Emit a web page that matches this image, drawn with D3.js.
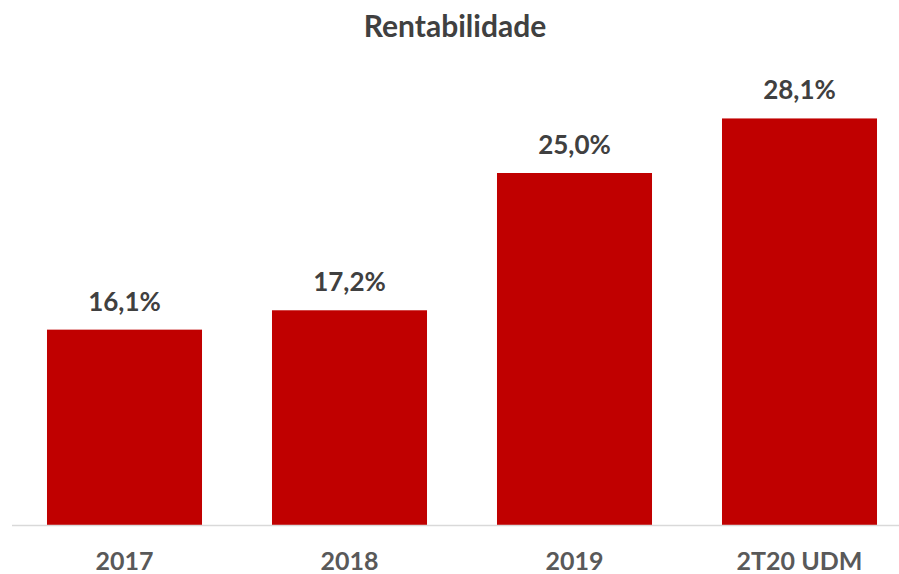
<!DOCTYPE html>
<html>
<head>
<meta charset="utf-8">
<script src="https://cdn.jsdelivr.net/npm/d3@7"></script>
<style>
  body { margin: 0; background: #fff; }
  text { font-family: Lato, "Open Sans", sans-serif; font-weight: bold; }
</style>
</head>
<body>
<div id="chart"></div>
<script>
// chart data
var categories = ["2017", "2018", "2019", "2T20 UDM"];
var values = [16.1, 17.2, 25.0, 28.1];
var valueLabels = ["16,1%", "17,2%", "25,0%", "28,1%"];
var chartTitle = "Rentabilidade";

var width = 899, height = 574;
var margin = {top: 85, right: -13, bottom: 49, left: 12};
var innerW = width - margin.left - margin.right,
    innerH = height - margin.top - margin.bottom;

var svg = d3.select("#chart").append("svg")
    .attr("width", width)
    .attr("height", height);

svg.append("text")
    .attr("x", 455)
    .attr("y", 37)
    .attr("text-anchor", "middle")
    .attr("fill", "#404040")
    .style("font-size", "30px")
    .text(chartTitle);

var g = svg.append("g")
    .attr("transform", "translate(" + margin.left + "," + margin.top + ")");

var x = d3.scaleBand()
    .domain(categories)
    .range([0, innerW])
    .paddingInner(0.311)
    .paddingOuter(0.1555);

// value axis starts at 5, not zero
var y = d3.scaleLinear()
    .domain([5, 30])
    .range([innerH, 0]);

g.selectAll(".bar")
    .data(values)
    .enter()
    .append("rect")
    .attr("class", "bar")
    .attr("x", function(d, i) { return x(categories[i]); })
    .attr("y", function(d) { return y(d); })
    .attr("width", x.bandwidth())
    .attr("height", function(d) { return innerH - y(d); })
    .attr("fill", "#C00000");

g.selectAll(".val")
    .data(values)
    .enter()
    .append("text")
    .attr("class", "val")
    .attr("x", function(d, i) { return x(categories[i]) + x.bandwidth() / 2; })
    .attr("y", function(d) { return y(d) - 19; })
    .attr("text-anchor", "middle")
    .attr("fill", "#404040")
    .style("font-size", "26px")
    .text(function(d, i) { return valueLabels[i]; });

// baseline
g.append("line")
    .attr("x1", 0)
    .attr("x2", width - margin.left)
    .attr("y1", innerH + 0.5)
    .attr("y2", innerH + 0.5)
    .attr("stroke", "#d9d9d9")
    .attr("stroke-width", 1.5);

var xAxis = g.append("g")
    .attr("transform", "translate(0," + innerH + ")")
    .call(d3.axisBottom(x).tickSize(0).tickPadding(27));

xAxis.select(".domain").remove();
xAxis.selectAll("text")
    .attr("fill", "#595959")
    .style("font-size", "25px")
    .style("font-family", "Lato, 'Open Sans', sans-serif")
    .style("font-weight", "bold");
</script>
</body>
</html>
